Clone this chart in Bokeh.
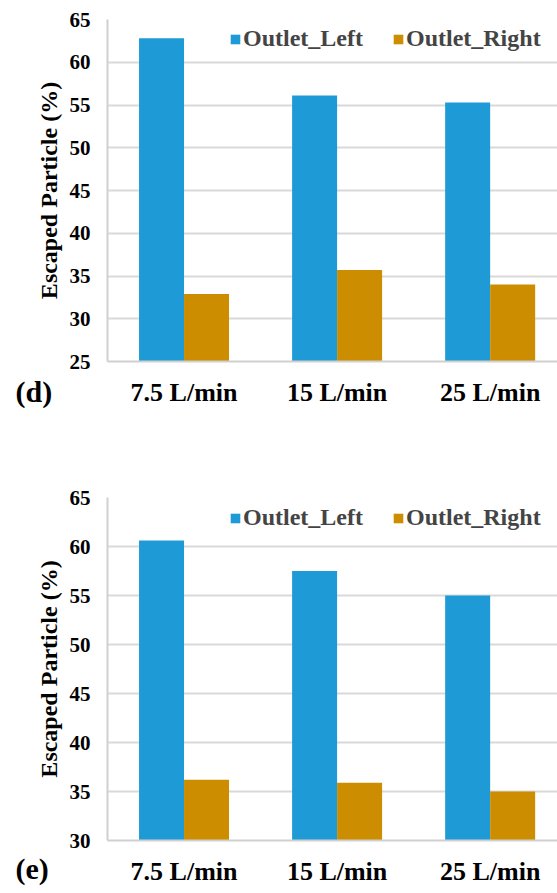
from bokeh.plotting import figure
from bokeh.layouts import column
from bokeh.models import Legend, LegendItem, Label, FixedTicker, ColumnDataSource
from bokeh.embed import file_html
from bokeh.resources import INLINE

categories = ["7.5 L/min", "15 L/min", "25 L/min"]
series_names = ["Outlet_Left", "Outlet_Right"]
d_left = [62.8, 56.1, 55.3]
d_right = [32.9, 35.7, 34.0]
e_left = [60.6, 57.5, 55.0]
e_right = [36.2, 35.9, 35.0]
d_yticks = [25, 30, 35, 40, 45, 50, 55, 60, 65]
e_yticks = [30, 35, 40, 45, 50, 55, 60, 65]

BLUE = "#1E9BD7"
ORANGE = "#CC8E00"
FONT = "Liberation Serif"
GRID = "#D9D9D9"

FRAME_W = 450
FRAME_H = 343
X_START, X_END = -0.5, 2.44


def make_panel(left_vals, right_vals, yticks, border_top, border_bottom):
    x = list(range(len(categories)))
    p = figure(width=107 + FRAME_W, height=border_top + FRAME_H + border_bottom,
               x_range=(X_START, X_END), y_range=(yticks[0], yticks[-1]),
               output_backend="svg", toolbar_location=None,
               min_border_left=107, min_border_right=0,
               min_border_top=border_top, min_border_bottom=border_bottom)
    p.outline_line_color = None
    src = ColumnDataSource(dict(
        xl=[v - 0.147 for v in x], xr=[v + 0.147 for v in x],
        yl=left_vals, yr=right_vals))
    r1 = p.vbar(x="xl", top="yl", bottom=yticks[0], width=0.294, source=src,
                fill_color=BLUE, line_color=None)
    r2 = p.vbar(x="xr", top="yr", bottom=yticks[0], width=0.294, source=src,
                fill_color=ORANGE, line_color=None)

    p.xaxis.ticker = FixedTicker(ticks=x)
    p.xaxis.major_label_overrides = {i: c for i, c in zip(x, categories)}
    p.yaxis.ticker = FixedTicker(ticks=yticks)
    for ax in (p.xaxis, p.yaxis):
        ax.major_tick_line_color = None
        ax.minor_tick_line_color = None
        ax.axis_line_color = "#D0D0D0"
        ax.axis_line_width = 2
        ax.major_label_text_font = FONT
        ax.major_label_text_font_style = "bold"
        ax.major_label_text_color = "black"
    p.xaxis.major_label_text_font_size = "26px"
    p.xaxis.major_label_standoff = 10
    p.yaxis.major_label_text_font_size = "21px"
    p.yaxis.major_label_standoff = 11
    p.yaxis.axis_label = "Escaped Particle (%)"
    p.yaxis.axis_label_text_font = FONT
    p.yaxis.axis_label_text_font_style = "bold"
    p.yaxis.axis_label_text_font_size = "24px"
    p.yaxis.axis_label_text_color = "black"
    p.yaxis.axis_label_standoff = 5
    p.xgrid.grid_line_color = None
    p.ygrid.grid_line_color = GRID
    p.ygrid.grid_line_width = 2

    legend = Legend(items=[LegendItem(label=series_names[0], renderers=[r1]),
                           LegendItem(label=series_names[1], renderers=[r2])],
                    orientation="horizontal", location=(122, 309),
                    glyph_width=12, glyph_height=12, label_standoff=2,
                    spacing=29, padding=0, margin=0,
                    label_text_font=FONT, label_text_font_style="bold",
                    label_text_font_size="24px", label_height=26,
                    background_fill_alpha=0, border_line_color=None)
    p.add_layout(legend, "center")
    return p


def tag_label(text, y):
    return Label(x=-92, y=y, x_units="screen", y_units="screen",
                 text=text, text_font=FONT, text_font_style="bold",
                 text_font_size="30px", text_color="black",
                 text_baseline="middle", text_align="left")


pd_ = make_panel(d_left, d_right, d_yticks, 19, 80)
pd_.add_layout(tag_label("(d)", 51), "below")
pe_ = make_panel(e_left, e_right, e_yticks, 55, 53)
pe_.add_layout(tag_label("(e)", -371), "above")
layout = column(pd_, pe_, spacing=0)
open("out.html", "w").write(file_html(layout, INLINE))
